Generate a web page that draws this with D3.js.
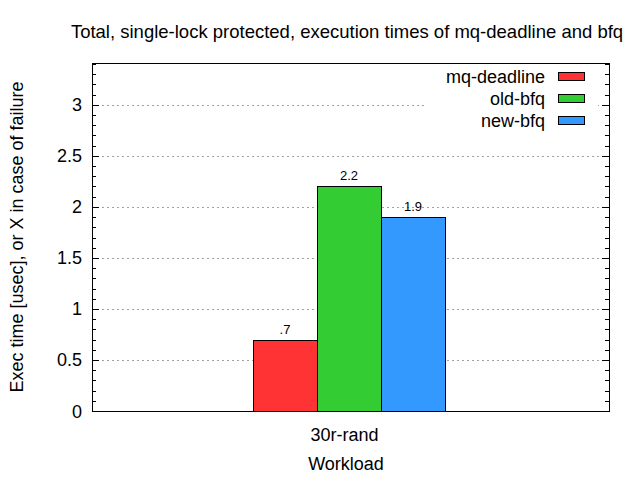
<!DOCTYPE html>
<html><head><meta charset="utf-8">
<script src="https://cdn.jsdelivr.net/npm/d3@7"></script>
<style>body{margin:0;background:#fff}svg{display:block;font-family:"Liberation Sans",Arial,sans-serif}</style>
</head><body><svg id="c" width="640" height="480"></svg>
<script>
const categories = ["30r-rand"];
const seriesNames = ["mq-deadline", "old-bfq", "new-bfq"];
const seriesColors = ["#ff3333", "#33cc33", "#3399ff"];
const values = [[0.7], [2.2], [1.9]];
const valueLabels = [[".7"], ["2.2"], ["1.9"]];
const yTicks = [0, 0.5, 1, 1.5, 2, 2.5, 3];
const yTickLabels = ["0", "0.5", "1", "1.5", "2", "2.5", "3"];

const svg = d3.select("#c");
const L = 92, R = 609, T = 63, B = 411;
const y = d3.scaleLinear().domain([0, 3.41]).range([B, T]);
const x = d3.scaleBand().domain(categories).range([L, R]).paddingInner(0);
const sub = d3.scaleBand().domain(seriesNames).range([0, 192]);
const groupOffset = (x.bandwidth() - 192) / 2 - 1.5;

// grid
svg.append("g").selectAll("line").data(yTicks.filter(d => d > 0)).join("line")
  .attr("x1", L).attr("x2", R).attr("y1", d => Math.round(y(d)) + 0.5).attr("y2", d => Math.round(y(d)) + 0.5)
  .attr("stroke", "#a0a0a0").attr("stroke-dasharray", "2,3").attr("stroke-width", 1);

// minor / major ticks
const minor = d3.range(0, 3.41, 0.1);
const tg = svg.append("g").attr("stroke", "#000").attr("stroke-width", 1);
minor.forEach(v => {
  const isMajor = yTicks.some(t => Math.abs(t - v) < 1e-6);
  const len = isMajor ? 7 : 4;
  const yy = Math.round(y(v)) + 0.5;
  tg.append("line").attr("x1", L).attr("x2", L + len).attr("y1", yy).attr("y2", yy);
  tg.append("line").attr("x1", R).attr("x2", R - len).attr("y1", yy).attr("y2", yy);
});

// bars
seriesNames.forEach((s, i) => {
  svg.append("g").selectAll("rect").data(categories).join("rect")
    .attr("x", c => x(c) + groupOffset + sub(s) + 0.5)
    .attr("y", (c, j) => Math.round(y(values[i][j])) + 0.5)
    .attr("width", sub.bandwidth())
    .attr("height", (c, j) => B - Math.round(y(values[i][j])))
    .attr("fill", seriesColors[i]).attr("stroke", "#000").attr("stroke-width", 1);
  svg.append("g").selectAll("text").data(categories).join("text")
    .attr("x", c => x(c) + groupOffset + sub(s) + sub.bandwidth() / 2)
    .attr("y", (c, j) => y(values[i][j]) - 6)
    .attr("text-anchor", "middle").attr("font-size", 13).attr("fill", "#000")
    .text((c, j) => valueLabels[i][j]);
});

// border
svg.append("rect").attr("x", L + 0.5).attr("y", T + 0.5).attr("width", R - L).attr("height", B - T)
  .attr("fill", "none").attr("stroke", "#000").attr("stroke-width", 1);

// y tick labels
svg.append("g").selectAll("text").data(yTicks).join("text")
  .attr("x", 82).attr("y", d => y(d) + 6.5).attr("text-anchor", "end")
  .attr("font-size", 18).text((d, i) => yTickLabels[i]);

// x tick labels
svg.append("g").selectAll("text").data(categories).join("text")
  .attr("x", c => x(c) + x.bandwidth() / 2 - 6).attr("y", 441).attr("text-anchor", "middle")
  .attr("font-size", 18).text(c => c);

// legend
const lg = svg.append("g");
lg.append("rect").attr("x", 426).attr("y", 64).attr("width", 172).attr("height", 66).attr("fill", "#fff");
seriesNames.forEach((s, i) => {
  const cy = 76 + i * 22;
  lg.append("text").attr("x", 545).attr("y", cy + 6.5).attr("text-anchor", "end").attr("font-size", 18).text(s);
  lg.append("rect").attr("x", 558.5).attr("y", cy - 3.5).attr("width", 26).attr("height", 8)
    .attr("fill", seriesColors[i]).attr("stroke", "#000");
});

// titles
svg.append("text").attr("x", 347).attr("y", 38).attr("text-anchor", "middle").attr("font-size", 18.5)
  .text("Total, single-lock protected, execution times of mq-deadline and bfq");
svg.append("text").attr("x", 346).attr("y", 470).attr("text-anchor", "middle").attr("font-size", 18).text("Workload");
svg.append("text").attr("transform", "translate(23,237) rotate(-90)").attr("text-anchor", "middle")
  .attr("font-size", 18).text("Exec time [usec], or X in case of failure");
</script></body></html>
